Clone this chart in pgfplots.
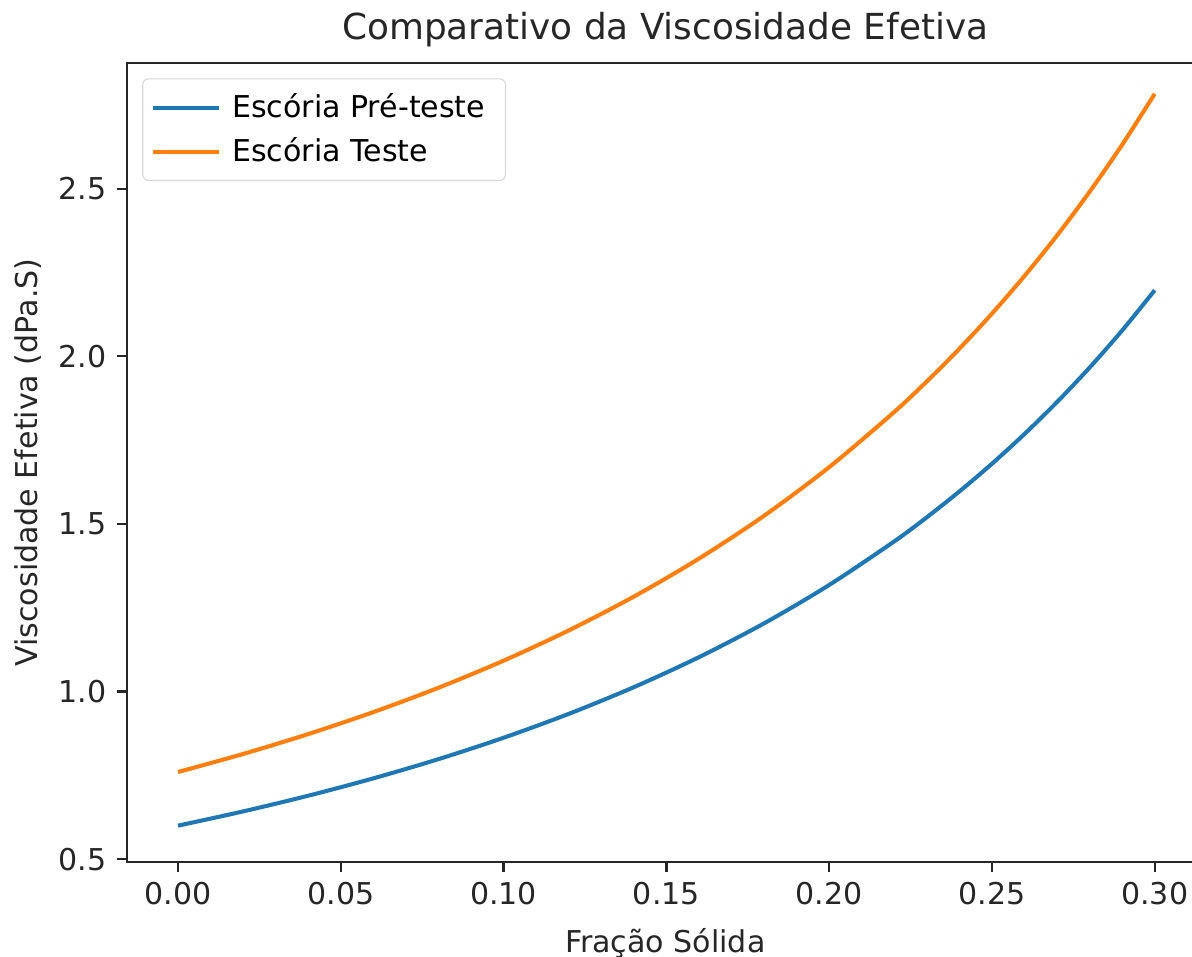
\documentclass[border=0pt]{standalone}
\usepackage{fontspec}
\setmainfont{DejaVu Sans}
\usepackage{pgfplots}
\usepackage{pgfplotstable}
\pgfplotsset{compat=1.18}
\definecolor{mplblue}{HTML}{1F77B4}
\definecolor{mplorange}{HTML}{FF7F0E}
\definecolor{spine}{HTML}{262626}
\pgfplotstableread{
x blue orange
0.00 0.6000 0.7600
0.02 0.6425 0.8138
0.04 0.6893 0.8732
0.06 0.7411 0.9387
0.08 0.7984 1.0113
0.10 0.8622 1.0921
0.12 0.9334 1.1823
0.14 1.0130 1.2832
0.16 1.1025 1.3965
0.18 1.2034 1.5243
0.20 1.3179 1.6693
0.22 1.4480 1.8341
0.23 1.5199 1.9252
0.24 1.5969 2.0227
0.25 1.6795 2.1274
0.26 1.7683 2.2398
0.27 1.8637 2.3606
0.28 1.9665 2.4909
0.29 2.0773 2.6312
0.30 2.1972 2.7831
}\datatable
\begin{document}
\begin{tikzpicture}
\begin{axis}[
  scale only axis, width=372.5pt, height=276.5pt,
  xmin=-0.0157, xmax=0.315, ymin=0.491, ymax=2.875,
  axis line style={line width=0.8pt, spine},
  tick align=outside, major tick length=3.5pt,
  every tick/.style={line width=0.8pt, spine},
  xtick pos=bottom, ytick pos=left,
  xtick={0,0.05,0.1,0.15,0.2,0.25,0.3},
  ytick={0.5,1,1.5,2,2.5},
  /pgf/number format/assume math mode=true,
  xticklabel style={/pgf/number format/.cd, fixed, fixed zerofill, precision=2},
  yticklabel style={/pgf/number format/.cd, fixed, fixed zerofill, precision=1},
  tick label style={font=\fontsize{10.4}{12}\selectfont, text=spine},
  title={Comparativo da Viscosidade Efetiva},
  title style={font=\fontsize{12.4}{14}\selectfont, text=spine, yshift=-4pt},
  xlabel={Fração Sólida}, ylabel={Viscosidade Efetiva (dPa.S)},
  xlabel style={yshift=-1pt},
  ylabel style={yshift=-1pt},
  label style={font=\fontsize{10.4}{12}\selectfont, text=spine},
  legend cell align=left,
  legend style={at={(0,1)}, anchor=north west, xshift=5.3pt, yshift=-5.3pt,
    draw=black!15, rounded corners=2pt, fill=white, fill opacity=0.8, text opacity=1,
    font=\fontsize{10.4}{12}\selectfont, inner xsep=3pt, inner ysep=3pt,
    row sep=1.5pt, nodes={inner xsep=4pt}},
  legend image code/.code={\draw[#1] (0pt,0pt) -- (22.5pt,0pt);},
]
\addplot[mplblue, line width=1.4pt, smooth] table[x=x, y=blue] {\datatable};
\addlegendentry{Escória Pré-teste}
\addplot[mplorange, line width=1.4pt, smooth] table[x=x, y=orange] {\datatable};
\addlegendentry{Escória Teste}
\end{axis}
\pgfresetboundingbox
\path[use as bounding box] (-43.9pt,-32.5pt) rectangle (368.5pt,298.3pt);
\end{tikzpicture}
\end{document}
